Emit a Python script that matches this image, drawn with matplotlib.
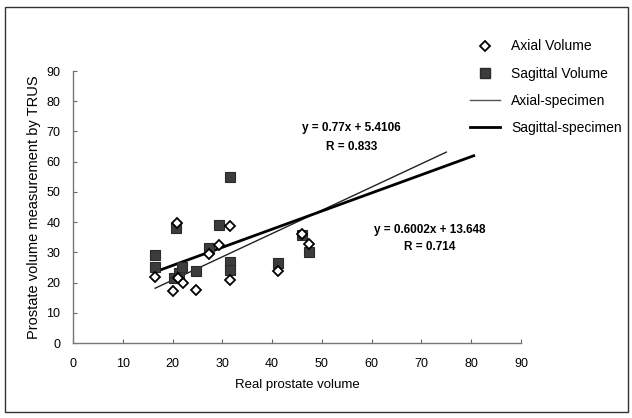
import matplotlib
matplotlib.use("Agg")
import matplotlib.pyplot as plt
from matplotlib.lines import Line2D
from matplotlib.patches import Rectangle
import numpy as np

plt.rcParams['font.family'] = ['Liberation Sans', 'DejaVu Sans']

# Data
axial_x = [16.5, 20.0, 20.9, 22.0, 24.7, 27.4, 29.4, 31.6, 31.6, 41.2, 46.0, 47.5, 21.0]
axial_y = [22.0, 17.3, 39.7, 19.7, 17.7, 29.4, 32.3, 38.6, 20.8, 23.8, 36.2, 32.9, 21.5]

sag_x = [16.5, 16.5, 20.7, 20.2, 21.3, 21.9, 24.7, 27.4, 29.4, 31.5, 31.6, 31.6, 41.2, 46.0, 47.5]
sag_y = [29.2, 25.2, 38.2, 21.4, 23.3, 25.2, 23.9, 31.5, 39.0, 55.0, 26.8, 24.0, 26.5, 35.6, 30.2]

axial_fit = (0.77, 5.4106)
axial_range = (16.5, 75.0)
sag_fit = (0.6002, 13.648)
sag_range = (16.5, 80.5)

xticks = [0, 10, 20, 30, 40, 50, 60, 70, 80, 90]
yticks = [0, 10, 20, 30, 40, 50, 60, 70, 80, 90]

W, H = 632, 418
fig = plt.figure(figsize=(W / 100, H / 100), dpi=100)
ax = fig.add_axes([73 / W, (H - 343) / H, (521 - 73) / W, (343 - 71) / H])

# regression lines
xa = np.array(axial_range)
ax.plot(xa, axial_fit[0] * xa + axial_fit[1], color='#222222', lw=1.0, zorder=2)
xs = np.array(sag_range)
ax.plot(xs, sag_fit[0] * xs + sag_fit[1], color='black', lw=2.0, zorder=2)

ax.plot(sag_x, sag_y, ls='none', marker='s', ms=7.5, mfc='#3c3c3c', mec='#2a2a2a', mew=0.8, zorder=3)
ax.plot(axial_x, axial_y, ls='none', marker='D', ms=5.5, mfc='white', mec='black', mew=1.3, zorder=4)

ax.set_xlim(0, 90)
ax.set_ylim(0, 90)
ax.set_xticks(xticks)
ax.set_yticks(yticks)
ax.tick_params(direction='in', length=3, width=0.8, colors='#666666', labelcolor='black', labelsize=9)
ax.tick_params(axis='x', pad=11)
ax.tick_params(axis='y', pad=9)
for s in ['top', 'right']:
    ax.spines[s].set_visible(False)
for s in ['left', 'bottom']:
    ax.spines[s].set_color('#777777')
    ax.spines[s].set_linewidth(1.0)

ax.set_xlabel('Real prostate volume', fontsize=9.5, labelpad=6)
ax.set_ylabel('Prostate volume measurement by TRUS', fontsize=10.5, labelpad=4)

eqfont = dict(family=['Liberation Sans Narrow', 'Liberation Sans'], fontsize=8.5, fontweight='bold', ha='center', va='center')
ax.text(55.9, 71.0, 'y = 0.77x + 5.4106', **eqfont)
ax.text(55.9, 64.7, 'R = 0.833', **eqfont)
ax.text(71.6, 37.3, 'y = 0.6002x + 13.648', **eqfont)
ax.text(71.6, 31.7, 'R = 0.714', **eqfont)

handles = [
    Line2D([], [], ls='none', marker='D', ms=5, mfc='white', mec='black', mew=1.3),
    Line2D([], [], ls='none', marker='s', ms=7, mfc='#3c3c3c', mec='#2a2a2a'),
    Line2D([], [], color='#555555', lw=1.0),
    Line2D([], [], color='black', lw=2.0),
]
labels = ['Axial Volume', 'Sagittal Volume', 'Axial-specimen', 'Sagittal-specimen']
fig.legend(handles, labels, loc='upper left', bbox_to_anchor=(457 / W, 1 - 27 / H),
           frameon=False, fontsize=10, labelspacing=0.95, handlelength=2.2, handletextpad=0.8)

fig.add_artist(Rectangle((4.5 / W, 6.5 / H), (628 - 4.5) / W, (411.5 - 6.5) / H,
                         transform=fig.transFigure, fill=False, ec='#333333', lw=1.0))

fig.savefig('out.png', dpi=100)
